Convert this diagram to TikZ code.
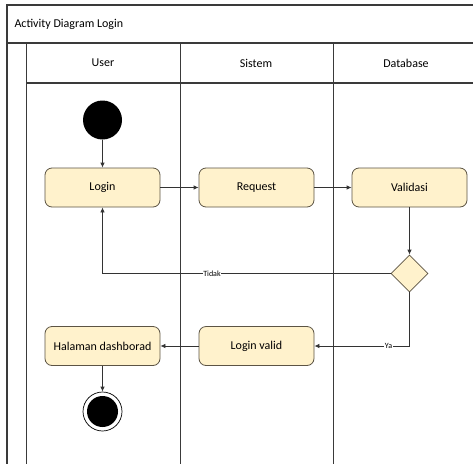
\documentclass[tikz,border=0pt]{standalone}
\usepackage{fontspec}
\setmainfont{Carlito}
\usetikzlibrary{shapes.geometric,arrows.meta}
\definecolor{actfill}{HTML}{FFF2CC}
\definecolor{actline}{HTML}{5C5444}
\definecolor{frameline}{HTML}{3A3A3A}
\definecolor{flowline}{HTML}{333333}
\tikzset{
  frame/.style={draw=frameline, line width=1.2pt},
  lane/.style={draw=frameline, line width=1pt},
  act/.style={rectangle, rounded corners=7pt, draw=actline, fill=actfill, line width=0.8pt,
    minimum width=115pt, minimum height=39pt, inner sep=0pt, font=\fontsize{12}{14}\selectfont},
  choice/.style={diamond, draw=actline, fill=actfill, line width=0.8pt,
    minimum width=37pt, minimum height=37pt, inner sep=0pt},
  startdot/.style={circle, fill=black, minimum size=39pt, inner sep=0pt},
  enddot/.style={circle, draw=black, line width=0.7pt, fill=white, minimum size=39pt, inner sep=0pt,
    path picture={\fill[black] (path picture bounding box.center) circle (15.5pt);}},
  flow/.style={draw=flowline, line width=0.8pt, -{Latex[length=5pt,width=4.5pt]}},
  guard/.style={font=\fontsize{8}{9}\selectfont, fill=white, inner sep=0.5pt},
  head/.style={font=\fontsize{12}{14}\selectfont}
}
\begin{document}
\begin{tikzpicture}[x=1pt,y=-1pt]
\useasboundingbox (0,0) rectangle (473,463);
% pool frame and swimlanes
\fill[white] (0,0) rectangle (473,463);
\draw[frame] (7,475) -- (7,5) -- (480,5);
\draw[frame] (7,43) -- (480,43);
\draw[frame] (26,83) -- (480,83);
\draw[lane] (26,43) -- (26,475);
\draw[lane] (180,43) -- (180,475);
\draw[lane] (333,43) -- (333,475);
\node[head, anchor=west] (title) at (11,24) {Activity Diagram Login};
\node[head] (huser) at (103,63) {User};
\node[head] (hsistem) at (256,63) {Sistem};
\node[head] (hdb) at (406,63) {Database};
% activities
\node[startdot] (start) at (102.5,120) {};
\node[act] (login) at (102.5,187.5) {Login};
\node[act] (request) at (256.5,187.5) {Request};
\node[act] (validasi) at (409.5,187.5) {Validasi};
\node[choice] (cek) at (409.5,273.5) {};
\node[act] (valid) at (256.5,346) {Login valid};
\node[act] (dash) at (102.5,346) {Halaman dashborad};
\node[enddot] (stop) at (102.5,411.5) {};
% control flows
\draw[flow] (start) -- (login);
\draw[flow] (login) -- (request);
\draw[flow] (request) -- (validasi);
\draw[flow] (validasi) -- (cek);
\draw[flow] (cek.west) -| node[guard, pos=0.31] {Tidak} (login.south);
\draw[flow] (cek.south) |- node[guard, pos=0.61] {Ya} (valid.east);
\draw[flow] (valid) -- (dash);
\draw[flow] (dash) -- (stop);
\end{tikzpicture}
\end{document}
